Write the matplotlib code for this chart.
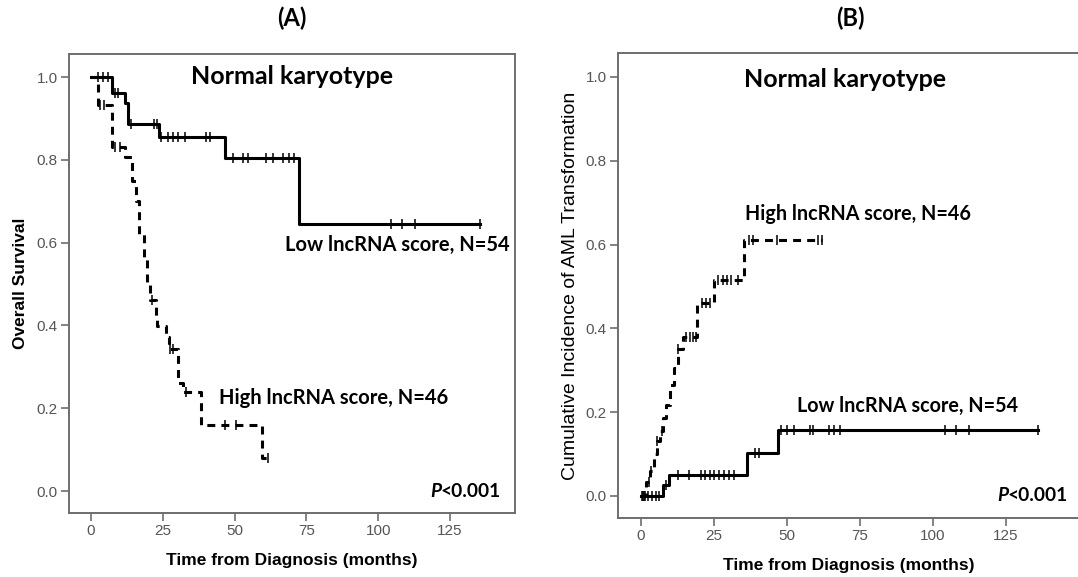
import numpy as np
import matplotlib
matplotlib.use("Agg")
import matplotlib.pyplot as plt

# ---------------- Data ----------------
# Panel A: Overall survival (Kaplan-Meier step changes)
a_low_t = [0, 7.2, 11.8, 12.9, 23.6, 46.7, 72.5]
a_low_s = [1.0, 0.962, 0.937, 0.886, 0.854, 0.805, 0.645]
a_low_end = 135.5
a_low_cens = [2.4, 4.2, 5.9, 8.3, 9.5, 13.9, 22.0, 23.0, 24.5, 26.8, 28.6, 30.3,
              32.6, 40.1, 41.3, 49.4, 52.9, 54.6, 61.0, 63.3, 66.8, 69.0, 70.8,
              104.4, 108.2, 112.7, 135.5]

a_high_t = [0, 2.3, 7.2, 11.8, 14.3, 15.5, 16.6, 18.4, 19.5, 20.5, 22.6, 23.0,
            26.0, 27.0, 30.2, 32.0, 38.4, 59.5]
a_high_s = [1.0, 0.932, 0.832, 0.807, 0.75, 0.70, 0.62, 0.56, 0.50, 0.461, 0.42,
            0.399, 0.373, 0.343, 0.26, 0.24, 0.159, 0.08]
a_high_end = 61.5
a_high_cens = [3.1, 4.5, 8.3, 10.0, 21.4, 27.6, 28.6, 33.2, 46.5, 50.6, 61.5]

# Panel B: Cumulative incidence of AML transformation
b_high_t = [0, 1.8, 3.2, 4.5, 5.5, 6.6, 7.5, 8.8, 10.0, 11.4, 12.8, 14.5, 19.3, 25.2, 35.4]
b_high_s = [0.0, 0.034, 0.06, 0.10, 0.13, 0.155, 0.186, 0.217, 0.265, 0.305, 0.35,
            0.38, 0.46, 0.515, 0.611]
b_high_end = 62.0
b_high_cens = [0.8, 1.5, 3.0, 3.6, 5.5, 7.2, 12.8, 15.5, 16.8, 17.8, 18.8, 20.9,
               22.3, 23.6, 26.5, 28.0, 29.5, 31.0, 33.3, 36.9, 38.4, 46.6, 60.8, 62.0]

b_low_t = [0, 7.6, 9.6, 36.5, 47.0]
b_low_s = [0.0, 0.026, 0.05, 0.102, 0.157]
b_low_end = 136.0
b_low_cens = [0.4, 1.2, 2.5, 4.0, 5.2, 6.3, 8.6, 12.6, 16.4, 20.7, 21.9, 23.6, 25.2,
              26.9, 28.6, 30.2, 31.9, 39.2, 40.6, 48.0, 50.2, 52.4, 57.9, 59.0,
              64.5, 66.1, 68.3, 104.2, 108.0, 112.5, 136.0]

x_ticks = [0, 25, 50, 75, 100, 125]
y_ticks = [0.0, 0.2, 0.4, 0.6, 0.8, 1.0]

# ---------------- Styling ----------------
TXT = ['Lato', 'DejaVu Sans']
AX = ['Liberation Sans', 'DejaVu Sans']
spine_c = '#6e6e6e'
tick_c = '#555555'

fig = plt.figure(figsize=(10.78, 5.77), dpi=100)
axA = fig.add_axes([0.064, 0.1109, 0.4137, 0.7955])
axB = fig.add_axes([0.5733, 0.1023, 0.4287, 0.8059])


def level_at(t, s, x):
    idx = np.searchsorted(np.asarray(t), np.asarray(x), side='right') - 1
    return np.asarray(s)[idx]


def draw_curve(ax, t, s, end, cens, dashed):
    tt = list(t) + [end]
    ss = list(s) + [s[-1]]
    ls = (0, (2.6, 2.0)) if dashed else '-'
    ax.step(tt, ss, where='post', color='black', lw=2.2, ls=ls, zorder=3)
    cy = level_at(t, s, cens)
    ax.plot(cens, cy, ls='none', marker='|', ms=7, mew=1.1, color='black', zorder=4)


def style_axes(ax, xlim, ylim):
    ax.set_xlim(*xlim)
    ax.set_ylim(*ylim)
    ax.set_xticks(x_ticks)
    ax.set_yticks(y_ticks)
    ax.set_yticklabels([f"{v:.1f}" for v in y_ticks])
    for sp in ax.spines.values():
        sp.set_color(spine_c)
        sp.set_linewidth(1.4)
    ax.tick_params(direction='out', length=6, width=1.2, color=spine_c,
                   labelcolor=tick_c, labelsize=11, pad=2)
    for lab in ax.get_xticklabels() + ax.get_yticklabels():
        lab.set_family(AX)


def p_value(ax, x, y, transform):
    t1 = ax.text(x, y, '<0.001', transform=transform, ha='right', va='center',
                 family=TXT, fontsize=13.8, fontweight='bold')
    ax.annotate('P', xy=(0, 0.5), xycoords=t1, ha='right', va='center',
                family=TXT, fontsize=13.8, fontweight='bold', fontstyle='italic')


# Panel A
draw_curve(axA, a_low_t, a_low_s, a_low_end, a_low_cens, False)
draw_curve(axA, a_high_t, a_high_s, a_high_end, a_high_cens, True)
style_axes(axA, (-7.66, 147.6), (-0.0531, 1.0556))
axA.set_ylabel('Overall Survival', family=AX, fontsize=12.5, fontweight='bold', labelpad=6)
axA.set_xlabel('Time from Diagnosis (months)', family=AX, fontsize=12.5,
               fontweight='bold', labelpad=11)
axA.text(0.5, 0.952, 'Normal karyotype', transform=axA.transAxes, ha='center', va='center',
         family=TXT, fontsize=18, fontweight='bold')
axA.text(106.5, 0.595, 'Low lncRNA score, N=54', ha='center', va='center',
         family=TXT, fontsize=14.5, fontweight='bold')
axA.text(84.6, 0.225, 'High lncRNA score, N=46', ha='center', va='center',
         family=TXT, fontsize=14.5, fontweight='bold')
p_value(axA, 142.8, 0.0, axA.transData)
fig.text(0.271, 0.968, '(A)', ha='center', va='center', family=TXT, fontsize=17,
         fontweight='bold')

# Panel B
draw_curve(axB, b_low_t, b_low_s, b_low_end, b_low_cens, False)
draw_curve(axB, b_high_t, b_high_s, b_high_end, b_high_cens, True)
style_axes(axB, (-7.77, 150.4), (-0.0525, 1.057))
axB.spines['right'].set_visible(False)
axB.set_ylabel('Cumulative Incidence of AML Transformation', family=AX, fontsize=14,
               labelpad=5)
axB.set_xlabel('Time from Diagnosis (months)', family=AX, fontsize=12.5,
               fontweight='bold', labelpad=11)
axB.text(70, 0.993, 'Normal karyotype', ha='center', va='center',
         family=TXT, fontsize=18, fontweight='bold')
axB.text(74.4, 0.673, 'High lncRNA score, N=46', ha='center', va='center',
         family=TXT, fontsize=14.2, fontweight='bold')
axB.text(91.2, 0.215, 'Low lncRNA score, N=54', ha='center', va='center',
         family=TXT, fontsize=14.2, fontweight='bold')
p_value(axB, 146.3, 0.0, axB.transData)
fig.text(0.789, 0.968, '(B)', ha='center', va='center', family=TXT, fontsize=17,
         fontweight='bold')

fig.savefig('out.png', dpi=100)
